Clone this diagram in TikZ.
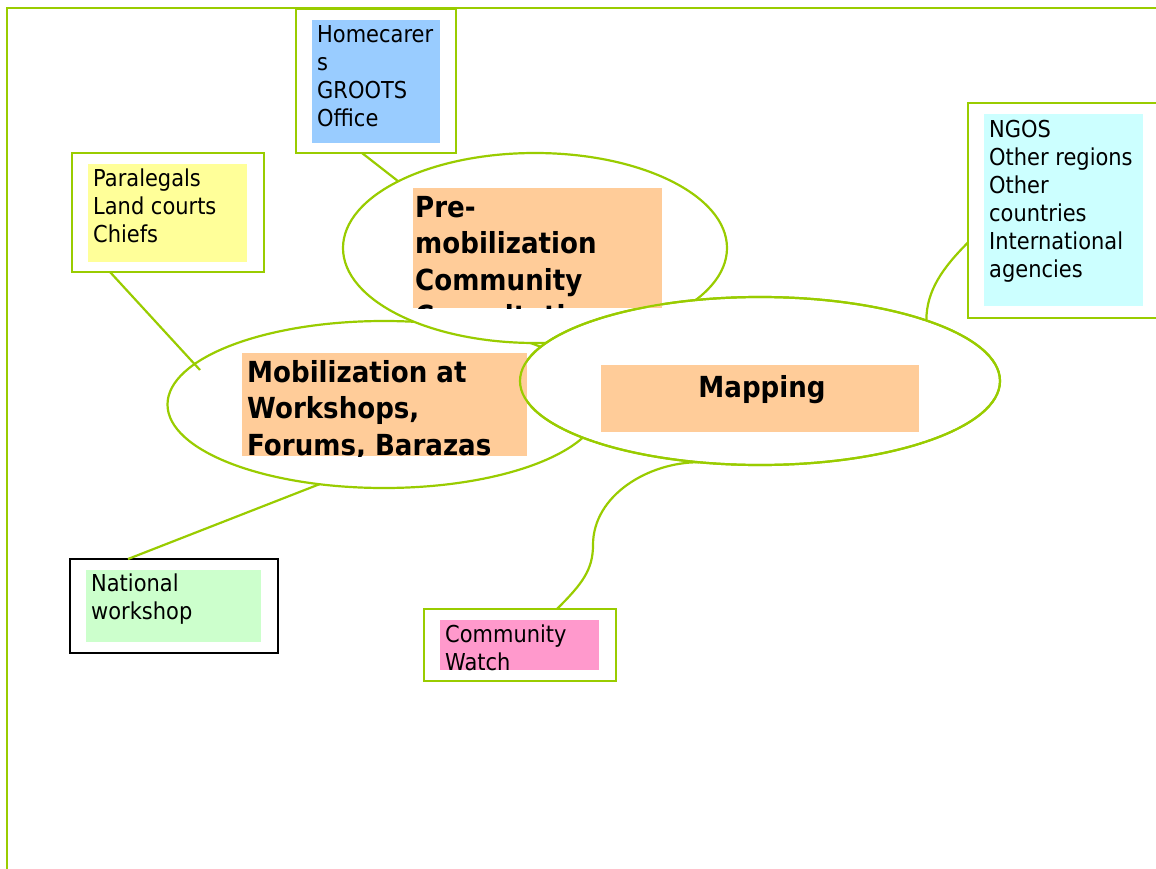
\documentclass[tikz,border=0pt]{standalone}
\usepackage{fontspec}
\setmainfont{DejaVu Sans}[FakeStretch=0.9]
\usetikzlibrary{shapes.geometric,calc}
\definecolor{lime}{RGB}{153,204,0}
\definecolor{skyfill}{RGB}{153,204,255}
\definecolor{yellowfill}{RGB}{255,255,153}
\definecolor{cyanfill}{RGB}{204,255,255}
\definecolor{mintfill}{RGB}{204,255,204}
\definecolor{pinkfill}{RGB}{255,153,204}
\definecolor{peachfill}{RGB}{255,204,153}
\begin{document}
\begin{tikzpicture}[x=1pt,y=-1pt,
  frameline/.style={draw=lime,line width=2.2pt},
  bubble/.style={ellipse,draw=lime,line width=2.2pt,fill=white,inner sep=0pt,outer sep=0pt},
  outerbox/.style={rectangle,draw=lime,line width=2.2pt,fill=white,anchor=north west,inner sep=0pt,outer sep=0pt},
  fillbox/.style={rectangle,anchor=north west,inner sep=0pt,outer sep=0pt,draw=none},
  smalltext/.style={anchor=north west,inner sep=0pt,align=left,font=\fontsize{23.3}{28}\selectfont},
  bigtext/.style={anchor=north west,inner sep=0pt,align=left,font=\fontsize{29}{36.5}\selectfont\bfseries},
  link/.style={draw=lime,line width=2.2pt}]
\useasboundingbox (0,0) rectangle (1156,869);

% bubbles
\node[bubble,minimum width=433pt,minimum height=167pt] (mob) at (384,404.5) {};
\node[bubble,minimum width=384pt,minimum height=190pt] (pre) at (535,248) {};
\node[bubble,minimum width=480pt,minimum height=168pt] (map) at (760,381) {};

% connector helper points
\coordinate (plEnd) at (200,370);
\coordinate (cwMid) at (593,545);

% outer boxes
\node[outerbox,minimum width=160pt,minimum height=144pt] (hc) at (296,9) {};
\node[outerbox,minimum width=192pt,minimum height=119pt] (pl) at (72,153) {};
\node[outerbox,minimum width=200pt,minimum height=215pt] (ng) at (968,103) {};
\node[outerbox,draw=black,minimum width=208pt,minimum height=94pt] (nw) at (70,559) {};
\node[outerbox,minimum width=192pt,minimum height=72pt] (cw) at (424,609) {};

\draw[link] ([xshift=-14pt]hc.south) -- (pre.154);
\draw[link] ([xshift=-58pt]pl.south) -- (plEnd);
\draw[link] ([xshift=-46pt]nw.north) -- (mob.231);
\draw[link] ([xshift=37pt]cw.north) .. controls +(25,-25) and +(0,25) .. (cwMid)
  .. controls +(0,-50) and +(-50,0) .. (map.233);
\draw[link] ([yshift=-32pt]ng.west) .. controls +(-25,25) and +(0,-30) .. (map.20);

% coloured text areas
\node[fillbox,fill=skyfill,minimum width=128pt,minimum height=123pt] (hcF) at (312,20) {};
\node[fillbox,fill=yellowfill,minimum width=159pt,minimum height=98pt] (plF) at (88,164) {};
\node[fillbox,fill=cyanfill,minimum width=159pt,minimum height=192pt] (ngF) at (984,114) {};
\node[fillbox,fill=mintfill,minimum width=175pt,minimum height=72pt] (nwF) at (86,570) {};
\node[fillbox,fill=pinkfill,minimum width=159pt,minimum height=50pt] (cwF) at (440,620) {};

\node[smalltext] (hcT) at (317,22.4) {\strut Homecarer\\s\\GROOTS\\Office};
\node[smalltext] (plT) at (93,166.4) {\strut Paralegals\\Land courts\\Chiefs};
\node[smalltext] (ngT) at (989,117.4) {\strut NGOS\\Other regions\\Other\\countries\\International\\agencies};
\node[smalltext] (nwT) at (91,571.4) {\strut National\\workshop};
\node[smalltext] (cwT) at (445,622.4) {\strut Community\\Watch};

% orange title boxes
\node[fillbox,fill=peachfill,minimum width=249pt,minimum height=120pt] (preF) at (413,188) {};
\begin{scope}
  \clip (413,188) rectangle (662,308);
  \node[bigtext] (preT) at (415,191.5) {\strut Pre-\\mobilization\\Community\\Consultation};
\end{scope}
\node[fillbox,fill=peachfill,minimum width=285pt,minimum height=103pt] (mobF) at (242,353) {};
\begin{scope}
  \clip (242,353) rectangle (527,456);
  \node[bigtext] (mobT) at (247,356.5) {\strut Mobilization at\\Workshops,\\Forums, Barazas};
\end{scope}
\node[fillbox,fill=peachfill,minimum width=318pt,minimum height=67pt] (mapF) at (601,365) {};
\node[anchor=base,inner sep=0pt,font=\fontsize{29}{36.5}\selectfont\bfseries] (mapT) at (762,397) {Mapping};

% mapping outline over the boxes
\draw[draw=lime,line width=2.2pt] (map.center) ellipse [x radius=240pt,y radius=84pt];

% page frame
\coordinate (tl) at (7,8);
\coordinate (tr) at (1160,8);
\coordinate (bl) at (7,872);
\draw[frameline] (tr) -- (tl) -- (bl);
\end{tikzpicture}
\end{document}
